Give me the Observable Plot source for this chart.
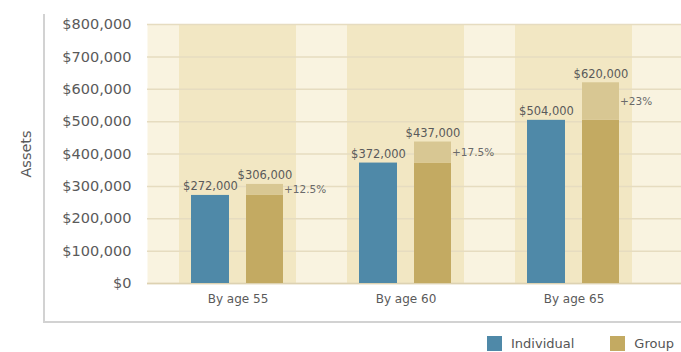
<!DOCTYPE html>
<html>
<head>
<meta charset="utf-8">
<script src="https://cdn.jsdelivr.net/npm/d3@7"></script>
<script src="https://cdn.jsdelivr.net/npm/@observablehq/plot@0.6"></script>
<style>
  html, body { margin: 0; padding: 0; background: #fff; }
  body { width: 681px; height: 352px; overflow: hidden; position: relative; font-family: "DejaVu Sans", sans-serif; }
  #chart { position: absolute; left: 0; top: 0; }
  #box { position: absolute; left: 43px; top: 14px; width: 640px; height: 307px;
         border-left: 2px solid #d2d2d2; border-bottom: 2px solid #d2d2d2; pointer-events: none; }
  #legend { position: absolute; left: 487px; top: 336px; width: 194px; }
  .lg-swatches { font-family: "DejaVu Sans", sans-serif !important; font-size: 13px !important; color: #555 !important;
                 flex-wrap: nowrap !important; min-height: 0 !important; margin: 0 !important; white-space: nowrap; }
  .lg-swatch { margin-right: 36px !important; }
  .lg-swatch svg { margin-right: 9px !important; }
</style>
</head>
<body>
<div id="chart"></div>
<div id="box"></div>
<div id="legend"></div>
<script>
const categories = ["By age 55", "By age 60", "By age 65"];
const series = ["Individual", "Group"];
const individual = [272000, 372000, 504000];
const group = [306000, 437000, 620000];
const increaseLabels = ["+12.5%", "+17.5%", "+23%"];
const yTicks = [0, 100000, 200000, 300000, 400000, 500000, 600000, 700000, 800000];
const seriesColors = ["#4f89a8", "#c3aa62"];
const increaseColor = "#d8c793";
const creamColor = "#f9f3e0";
const bandColor = "#f2e7c3";
const gridColor = "#e6dcc0";

const money = d => "$" + d3.format(",")(d);
const yMax = yTicks[yTicks.length - 1];

const rows = categories.map((c, i) => ({
  cat: c, ind: individual[i], grp: group[i], inc: increaseLabels[i]
}));

// bar placement inside each category band (band is ~118px wide)
const indInset = { insetLeft: 12, insetRight: 67 };
const grpInset = { insetLeft: 67, insetRight: 13 };

const chart = Plot.plot({
  width: 681,
  height: 322,
  marginLeft: 147,
  marginRight: 0,
  marginTop: 24,
  marginBottom: 39,
  style: { fontFamily: "DejaVu Sans, sans-serif", color: "#5a5a5a", background: "transparent" },
  x: { domain: categories, paddingInner: 0.302, paddingOuter: 0.231, align: 0.397, label: null },
  y: { domain: [0, yMax], ticks: yTicks, label: null },
  marks: [
    Plot.frame({ fill: creamColor }),
    Plot.barY(categories, { x: d => d, y1: 0, y2: yMax, fill: bandColor }),
    Plot.ruleY(yTicks, { y: d => d, stroke: gridColor, strokeWidth: 1.5 }),
    Plot.ruleY([0], { stroke: "#ddd2b2", strokeWidth: 1.5 }),
    Plot.barY(rows, { x: "cat", y: "ind", fill: seriesColors[0], ...indInset }),
    Plot.barY(rows, { x: "cat", y: "ind", fill: seriesColors[1], ...grpInset }),
    Plot.barY(rows, { x: "cat", y1: "ind", y2: "grp", fill: increaseColor, ...grpInset }),
    Plot.text(rows, { x: "cat", y: "ind", text: d => money(d.ind), lineAnchor: "bottom", dx: -27.5, dy: -5, fontSize: 11.5, fill: "#5a5a5a" }),
    Plot.text(rows, { x: "cat", y: "grp", text: d => money(d.grp), lineAnchor: "bottom", dx: 27, dy: -5, fontSize: 11.5, fill: "#5a5a5a" }),
    Plot.text(rows, { x: "cat", y: d => (d.ind + d.grp) / 2, text: "inc", textAnchor: "start", dx: 46, fontSize: 10.5, fill: "#6a6a6a" }),
    Plot.axisY({ ticks: yTicks, tickSize: 0, tickPadding: 16, tickFormat: money, fontSize: 14.5, fill: "#5a5a5a",
                 label: "Assets", labelAnchor: "center", labelOffset: 127, labelArrow: false }),
    Plot.axisX({ anchor: "bottom", tickSize: 0, tickPadding: 11, fontSize: 12, label: null, fill: "#5a5a5a" })
  ]
});
document.getElementById("chart").appendChild(chart);

const legend = Plot.legend({
  color: { type: "ordinal", domain: series, range: seriesColors },
  swatchSize: 15,
  className: "lg"
});
document.getElementById("legend").appendChild(legend);
</script>
</body>
</html>
